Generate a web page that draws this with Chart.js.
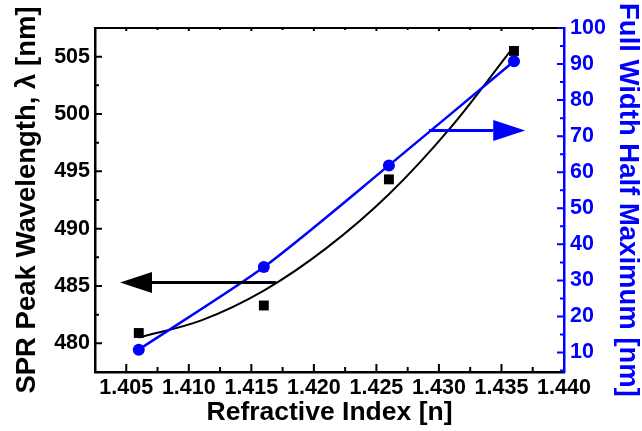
<!DOCTYPE html>
<html>
<head>
<meta charset="utf-8">
<script src="https://cdn.jsdelivr.net/npm/chart.js@4"></script>
<style>
  body { margin: 0; background: #fff; }
  #wrap { width: 642px; height: 431px; }
</style>
</head>
<body>
<div id="wrap"><canvas id="sprChart" width="642" height="431"></canvas></div>
<script>
// refractive index of each sample
const refIndex = [1.406, 1.416, 1.426, 1.436];
// SPR peak wavelength (nm), left axis
const peakWavelength = [480.9, 483.3, 494.3, 505.5];
// FWHM (nm), right axis
const fwhm = [10.8, 33.7, 61.9, 90.8];
// fitted trend of the peak wavelength
const fitIndex = [1.406, 1.411, 1.416, 1.421, 1.426, 1.431, 1.436];
const fitWavelength = [480.5, 482.0, 484.6, 488.3, 493.0, 498.9, 505.9];

// axis ticks
const xTicks = [1.405, 1.410, 1.415, 1.420, 1.425, 1.430, 1.435, 1.440];
const yTicks = [480, 485, 490, 495, 500, 505];
const y2Ticks = [10, 20, 30, 40, 50, 60, 70, 80, 90, 100];

// arrows telling which curve belongs to which axis
const arrowAxis = ['y', 'y2'];
const arrowLevel = [485.3, 71.6];
const arrowStart = [1.4170, 1.4292];
const arrowTip = [1.4045, 1.4369];

const BLUE = '#0000ff';
const FONT = "'Liberation Sans', Arial, sans-serif";

function pts(xs, ys) {
    return xs.map((x, i) => ({ x: x, y: ys[i] }));
}

function fixTicks(list) {
    return function(scale) {
        scale.ticks = list.map(v => ({ value: v }));
    };
}

// inward major/minor tick marks on all four sides, plus the top frame line
const frameTicks = {
    id: 'frameTicks',
    afterDraw(chart) {
        const ctx = chart.ctx;
        const a = chart.chartArea;
        const x = chart.scales.x, y = chart.scales.y, y2 = chart.scales.y2;
        ctx.save();
        ctx.lineWidth = 2;
        ctx.strokeStyle = '#000';
        ctx.beginPath();
        ctx.moveTo(a.left - 1, a.top);
        ctx.lineTo(a.right, a.top);
        ctx.stroke();

        const xs = [];
        for (let i = 0; i < xTicks.length; i++) {
            xs.push([xTicks[i], true]);
            xs.push([xTicks[i] - 0.0025, false]);
        }
        ctx.beginPath();
        xs.forEach(([v, major]) => {
            const px = x.getPixelForValue(v);
            if (px <= a.left + 1 || px >= a.right - 1) return;
            ctx.moveTo(px, a.bottom);
            ctx.lineTo(px, a.bottom - (major ? 8 : 5));
            ctx.moveTo(px, a.top);
            ctx.lineTo(px, a.top + (major ? 3 : 2));
        });
        const ys = [];
        yTicks.forEach(v => { ys.push([v, true]); ys.push([v + 2.5, false]); });
        ys.forEach(([v, major]) => {
            const py = y.getPixelForValue(v);
            if (py <= a.top + 1 || py >= a.bottom - 1) return;
            ctx.moveTo(a.left, py);
            ctx.lineTo(a.left + (major ? 7 : 4), py);
        });
        ctx.stroke();

        ctx.strokeStyle = BLUE;
        ctx.beginPath();
        const ys2 = [];
        y2Ticks.forEach(v => { ys2.push([v, true]); ys2.push([v - 5, false]); });
        ys2.forEach(([v, major]) => {
            const py = y2.getPixelForValue(v);
            if (py < a.top || py >= a.bottom - 1) return;
            ctx.moveTo(a.right, py);
            ctx.lineTo(a.right - (major ? 7 : 4), py);
        });
        ctx.stroke();
        ctx.restore();
    }
};

const axisArrows = {
    id: 'axisArrows',
    afterDatasetsDraw(chart) {
        const ctx = chart.ctx;
        const x = chart.scales.x;
        ctx.save();
        arrowAxis.forEach((id, i) => {
            const color = id === 'y' ? '#000' : BLUE;
            const py = chart.scales[id].getPixelForValue(arrowLevel[i]);
            const x0 = x.getPixelForValue(arrowStart[i]);
            const x1 = x.getPixelForValue(arrowTip[i]);
            const dir = Math.sign(x1 - x0);
            const headLen = 32, headHalf = 10.5;
            ctx.strokeStyle = color;
            ctx.fillStyle = color;
            ctx.lineWidth = 3;
            ctx.beginPath();
            ctx.moveTo(x0, py);
            ctx.lineTo(x1 - dir * headLen, py);
            ctx.stroke();
            ctx.beginPath();
            ctx.moveTo(x1, py);
            ctx.lineTo(x1 - dir * headLen, py - headHalf);
            ctx.lineTo(x1 - dir * headLen, py + headHalf);
            ctx.closePath();
            ctx.fill();
        });
        ctx.restore();
    }
};

const ctx = document.getElementById('sprChart').getContext('2d');
new Chart(ctx, {
    type: 'scatter',
    data: {
        datasets: [
            {
                label: 'SPR peak',
                data: pts(refIndex, peakWavelength),
                yAxisID: 'y',
                showLine: false,
                pointStyle: 'rect',
                pointRadius: 7,
                backgroundColor: '#000',
                borderColor: '#000',
                borderWidth: 0,
                order: 1
            },
            {
                label: 'FWHM',
                data: pts(refIndex, fwhm),
                yAxisID: 'y2',
                showLine: true,
                tension: 0.25,
                borderColor: BLUE,
                backgroundColor: BLUE,
                borderWidth: 2.5,
                pointStyle: 'circle',
                pointRadius: 6,
                pointBorderWidth: 0,
                order: 2
            },
            {
                label: 'fit',
                data: pts(fitIndex, fitWavelength),
                yAxisID: 'y',
                showLine: true,
                cubicInterpolationMode: 'monotone',
                borderColor: '#000',
                borderWidth: 2,
                pointRadius: 0,
                order: 3
            }
        ]
    },
    options: {
        responsive: false,
        animation: false,
        devicePixelRatio: 1,
        layout: { padding: { top: 28, left: 0, right: 0, bottom: 0 } },
        plugins: {
            legend: { display: false },
            tooltip: { enabled: false }
        },
        scales: {
            x: {
                type: 'linear',
                min: 1.4025,
                max: 1.440,
                afterBuildTicks: fixTicks(xTicks),
                afterFit(scale) { scale.height = 59; },
                grid: { drawOnChartArea: false, drawTicks: false },
                border: { color: '#000', width: 2.5 },
                ticks: {
                    padding: 3,
                    maxRotation: 0,
                    color: '#000',
                    font: { family: FONT, size: 21.5, weight: 'bold' },
                    callback: v => v.toFixed(3)
                },
                title: {
                    display: true,
                    text: 'Refractive Index [n]',
                    color: '#000',
                    padding: { top: 0, bottom: 2 },
                    font: { family: FONT, size: 26.5, weight: 'bold', lineHeight: 1.2 }
                }
            },
            y: {
                type: 'linear',
                position: 'left',
                min: 477.5,
                max: 507.5,
                afterBuildTicks: fixTicks(yTicks),
                afterFit(scale) { scale.width = 95; },
                grid: { drawOnChartArea: false, drawTicks: false },
                border: { color: '#000', width: 2.5 },
                ticks: {
                    padding: 5,
                    color: '#000',
                    font: { family: FONT, size: 21.5, weight: 'bold' }
                },
                title: {
                    display: true,
                    text: 'SPR Peak Wavelength, λ [nm]',
                    color: '#000',
                    padding: { top: 11, bottom: 0 },
                    font: { family: FONT, size: 27.5, weight: 'bold', lineHeight: 1.2 }
                }
            },
            y2: {
                type: 'linear',
                position: 'right',
                min: 4.6,
                max: 100,
                afterBuildTicks: fixTicks(y2Ticks),
                afterFit(scale) { scale.width = 78; },
                grid: { drawOnChartArea: false, drawTicks: false },
                border: { color: BLUE, width: 2.5 },
                ticks: {
                    padding: 6,
                    color: BLUE,
                    font: { family: FONT, size: 21.5, weight: 'bold' }
                },
                title: {
                    display: true,
                    text: 'Full Width Half Maximum [nm]',
                    color: BLUE,
                    padding: { top: 0, bottom: 0 },
                    font: { family: FONT, size: 27.5, weight: 'bold', lineHeight: 1.05 }
                }
            }
        }
    },
    plugins: [frameTicks, axisArrows]
});
</script>
</body>
</html>
